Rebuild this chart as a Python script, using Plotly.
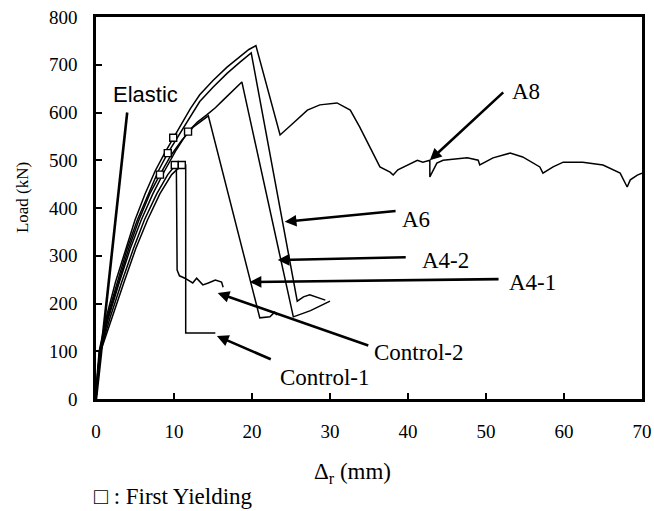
import plotly.graph_objects as go

# Load vs. relative displacement curves (mm, kN)
elastic_x = [0, 4.0]
elastic_y = [0, 600]

control1_x = [0, 0.25, 0.6, 2.0, 3.6, 5.1, 6.6, 8.2, 9.7, 11.0, 11.5, 11.5, 15.3]
control1_y = [0, 50, 100, 170, 245, 315, 375, 430, 470, 490, 490, 138, 138]

control2_x = [0, 0.22, 0.55, 1.8, 3.3, 4.8, 6.2, 7.8, 9.2, 10.1, 10.3, 10.4, 10.7,
              11.4, 12.4, 12.9, 13.7, 14.4, 15.3, 16.1, 16.3]
control2_y = [0, 50, 100, 170, 245, 315, 375, 430, 470, 490, 492, 270, 258,
              253, 243, 253, 239, 243, 249, 245, 234]

a41_x = [0, 0.2, 0.5, 1.5, 2.9, 4.2, 5.5, 6.9, 8.2, 9.6, 11.0, 12.5, 14.4,
         21.0, 22.3, 22.9, 23.2]
a41_y = [0, 50, 100, 170, 245, 315, 375, 430, 470, 510, 542, 570, 593,
         170, 172, 182, 176]

a42_x = [0, 0.2, 0.5, 1.6, 3.0, 4.4, 5.8, 7.3, 8.8, 10.3, 11.8, 13.0, 14.2,
         15.3, 16.3, 17.5, 18.7, 25.3, 27.5, 30.0]
a42_y = [0, 50, 100, 170, 245, 315, 375, 430, 478, 522, 560, 580, 595,
         610, 626, 645, 664, 172, 185, 205]

a6_x = [0, 0.18, 0.45, 1.4, 2.7, 4.0, 5.3, 6.7, 8.0, 9.2, 10.8, 12.1, 13.3,
        15.0, 16.8, 18.5, 19.9, 25.8, 26.6, 27.4, 28.5, 29.4]
a6_y = [0, 50, 100, 170, 245, 315, 375, 430, 478, 515, 557, 594, 623,
        653, 682, 706, 725, 205, 214, 218, 212, 207]

a8_x = [0, 0.15, 0.4, 1.3, 2.5, 3.8, 5.0, 6.3, 7.6, 8.8, 9.9, 10.8, 12.1,
        13.3, 15.0, 16.8, 18.5, 19.6, 20.5,
        23.6, 25.3, 27.1, 28.7, 30.9, 32.6, 33.8, 35.1, 36.4, 37.7, 38.1, 38.7,
        39.9, 41.2, 41.9, 42.8, 42.8, 43.7, 44.5, 47.6, 49.0, 49.2, 50.9, 53.1,
        54.7, 56.9, 57.3, 58.6, 59.9, 62.4, 65.0, 67.2, 68.1, 68.5, 69.4, 70.0]
a8_y = [0, 50, 100, 170, 245, 315, 375, 430, 478, 515, 547, 572, 608,
        637, 667, 695, 718, 732, 740,
        553, 578, 605, 616, 620, 605, 570, 528, 486, 475, 469, 480,
        490, 500, 496, 500, 465, 494, 500, 505, 500, 490, 505, 515,
        507, 486, 473, 486, 496, 496, 490, 473, 444, 459, 469, 473]

# First-yielding points
yield_x = [9.9, 9.2, 11.8, 8.2, 10.1, 11.0]
yield_y = [547, 515, 560, 470, 490, 490]

x_ticks = [0, 10, 20, 30, 40, 50, 60, 70]
y_ticks = [0, 100, 200, 300, 400, 500, 600, 700, 800]

SERIF = "Liberation Serif, Times New Roman, serif"
SANS = "Liberation Sans, Arial, sans-serif"

fig = go.Figure()

fig.add_trace(go.Scatter(x=elastic_x, y=elastic_y, mode="lines",
                         line=dict(color="black", width=2.6)))
for xs, ys in [(control1_x, control1_y), (control2_x, control2_y),
               (a41_x, a41_y), (a42_x, a42_y), (a6_x, a6_y), (a8_x, a8_y)]:
    fig.add_trace(go.Scatter(x=xs, y=ys, mode="lines",
                             line=dict(color="black", width=1.5)))

fig.add_trace(go.Scatter(x=yield_x, y=yield_y, mode="markers",
                         marker=dict(symbol="square", size=7, color="white",
                                     line=dict(color="black", width=1.4))))

# Labels with arrows: (text, tip x, tip y, tail x, tail y, text x, text y)
labels = [
    ("A8", 42.8, 500, 52.4, 645, 53.1, 645),
    ("A6", 24.2, 371, 38.6, 394, 39.0, 375),
    ("A4-2", 23.3, 291, 39.9, 297, 41.5, 291),
    ("A4-1", 19.7, 245, 51.8, 251, 52.7, 243),
    ("Control-2", 15.6, 222, 35.1, 111, 35.4, 98),
    ("Control-1", 15.5, 132, 22.6, 82, 23.3, 46),
]
for text, tx, ty, sx, sy, lx, ly in labels:
    fig.add_annotation(x=tx, y=ty, ax=sx, ay=sy, xref="x", yref="y",
                       axref="x", ayref="y", text="", showarrow=True,
                       arrowhead=2, arrowsize=0.9, arrowwidth=2.6,
                       arrowcolor="black")
    fig.add_annotation(x=lx, y=ly, xref="x", yref="y", text=text,
                       showarrow=False, xanchor="left", yanchor="middle",
                       font=dict(family=SERIF, size=23, color="black"))

fig.add_annotation(x=6.4, y=637, xref="x", yref="y", text="Elastic",
                   showarrow=False, xanchor="center", yanchor="middle",
                   font=dict(family=SANS, size=22, color="black"))

# Axis titles and footnote
fig.add_annotation(x=0.469, y=-0.194, xref="paper", yref="paper",
                   xanchor="center", yanchor="middle",
                   text="Δ<sub>r</sub> (mm)", showarrow=False,
                   font=dict(family=SERIF, size=23, color="black"))
fig.add_annotation(x=-0.1355, y=0.526, xref="paper", yref="paper",
                   xanchor="center", yanchor="middle",
                   text="Load (kN)", showarrow=False, textangle=-90,
                   font=dict(family=SERIF, size=17, color="black"))
fig.add_annotation(x=-0.007, y=-0.2565, xref="paper", yref="paper",
                   text="□ : First Yielding", showarrow=False,
                   xanchor="left", yanchor="middle",
                   font=dict(family=SERIF, size=23, color="black"))

fig.update_xaxes(range=[0, 70], tickvals=x_ticks, ticks="inside", ticklen=6,
                 tickwidth=2, tickcolor="black", showgrid=False, zeroline=False,
                 showline=True, linewidth=2.5, linecolor="black", mirror=True,
                 ticklabelstandoff=13, automargin=False,
                 tickfont=dict(family=SERIF, size=19, color="black"))
fig.update_yaxes(range=[0, 800], tickvals=y_ticks, ticks="inside", ticklen=6,
                 tickwidth=2, tickcolor="black", showgrid=False, zeroline=False,
                 showline=True, linewidth=2.5, linecolor="black", mirror=True,
                 ticklabelstandoff=12, automargin=False,
                 tickfont=dict(family=SERIF, size=19, color="black"))

fig.update_layout(width=654, height=511, showlegend=False,
                  margin=dict(l=96, r=12, t=17, b=112),
                  plot_bgcolor="white", paper_bgcolor="white")

fig.write_html("out.html")
